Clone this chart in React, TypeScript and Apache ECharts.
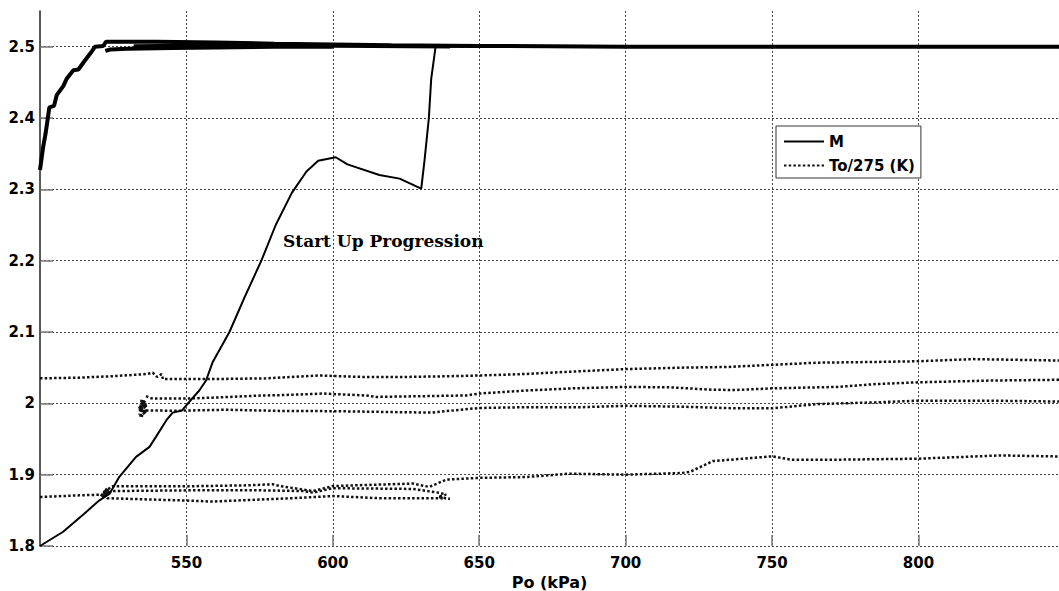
import React, { useEffect, useRef } from "react";
import * as echarts from "echarts";

// Axis settings (Po in kPa, dimensionless y)
const X_MIN = 500;
const X_MAX = 848;
const X_STEP = 50;
const Y_MIN = 1.8;
const Y_MAX = 2.55;
const Y_STEP = 0.1;

const X_NAME = "Po (kPa)";
const LEGEND_M = "M";
const LEGEND_T = "To/275 (K)";
const NOTE = "Start Up Progression";

// M: start-up trace
const mStartup: [number, number][] = [
  [500, 1.8], [507.9, 1.82], [515, 1.845], [520.3, 1.864], [523.7, 1.873],
  [527.1, 1.897], [532.8, 1.925], [537.4, 1.939], [539.6, 1.953], [543.1, 1.976],
  [545.3, 1.987], [548.5, 1.99], [551.6, 2.005], [554.4, 2.018], [556.7, 2.032],
  [559, 2.058], [564.7, 2.1], [570, 2.15], [575.6, 2.2], [580.5, 2.25],
  [586, 2.295], [591, 2.325], [595, 2.34], [601, 2.345], [605, 2.335],
  [615.9, 2.32], [622.8, 2.315], [630.2, 2.301], [631.3, 2.34], [632.8, 2.4],
  [633.6, 2.455], [635.1, 2.5], [700, 2.5], [848, 2.5],
];
// M: upper trace settling to 2.5
const mUpper: [number, number][] = [
  [500, 2.327], [501.1, 2.36], [501.9, 2.378], [503.2, 2.415], [504.8, 2.417],
  [505.7, 2.432], [508, 2.445], [509.1, 2.455], [511.4, 2.467], [513.1, 2.468],
  [515.4, 2.481], [517.1, 2.49], [518.8, 2.5], [521.6, 2.501], [522.6, 2.507],
  [540, 2.507], [560, 2.506], [580, 2.504], [600, 2.503], [620, 2.502],
  [650, 2.501], [700, 2.5], [848, 2.5],
];
// M: lower edge of the settled band
const mLower: [number, number][] = [
  [522.3, 2.494], [524, 2.496], [530, 2.497], [545, 2.498], [560, 2.499],
  [580, 2.5], [600, 2.5],
];
const mMiddle: [number, number][] = [
  [532, 2.501], [560, 2.502], [600, 2.501], [640, 2.5],
];

// To/275 traces
const tA: [number, number][] = [
  [500, 2.035], [513.4, 2.036], [524.8, 2.038], [536.2, 2.041], [538.5, 2.043],
  [540, 2.037], [541.5, 2.041], [542, 2.034], [559, 2.034], [577.2, 2.035],
  [595.4, 2.039], [610, 2.037], [625, 2.037], [639.7, 2.038], [650, 2.039],
  [665, 2.041], [679.4, 2.044], [700, 2.048], [719, 2.05], [735, 2.051],
  [750, 2.054], [765.6, 2.057], [785, 2.058], [800, 2.059], [818.7, 2.062],
  [848, 2.06],
];
const tB: [number, number][] = [
  [536.2, 2.01], [538, 2.007], [543.1, 2.0067], [550, 2.0067], [559, 2.008],
  [576, 2.011], [581.8, 2.0114], [596.7, 2.0137], [611.4, 2.011], [614.8, 2.009],
  [630, 2.01], [645.5, 2.011], [650, 2.0137], [666.2, 2.018], [682, 2.021],
  [700, 2.023], [715.2, 2.0224], [730, 2.019], [737.8, 2.0187], [750, 2.021],
  [772.3, 2.023], [785.5, 2.027], [800, 2.0295], [825.6, 2.032], [848, 2.033],
];
const tC: [number, number][] = [
  [536.2, 1.99], [546.5, 1.9896], [563.6, 1.991], [581.8, 1.9894], [600, 1.989],
  [616.4, 1.988], [633.4, 1.987], [650, 1.9935], [665, 1.9945], [684.2, 1.9945],
  [700, 1.9965], [719.2, 1.9953], [737.8, 1.993], [750, 1.993], [765.6, 1.999],
  [785.5, 2.0014], [800, 2.0037], [825.6, 2.0037], [848, 2.0025],
];
const tBlobUpper: [number, number][] = [
  [534.5, 1.981], [535.5, 2.004], [533.8, 1.99], [536.5, 1.998], [534, 1.995],
  [536, 1.985], [535, 2.006], [534.2, 1.984],
];
const tLower1: [number, number][] = [
  [500, 1.8687], [513.4, 1.871], [521.4, 1.872], [523, 1.879], [524.8, 1.8837],
  [549.9, 1.8837], [570.4, 1.885], [579.5, 1.8865], [582, 1.884], [590, 1.879],
  [593.2, 1.877], [600, 1.884], [615, 1.886], [627.3, 1.8875], [633, 1.8828],
  [638.7, 1.893], [650, 1.8955], [666.2, 1.8967], [680.8, 1.9014], [700, 1.9],
  [719.2, 1.9023], [722, 1.904], [729.8, 1.919], [750, 1.9257], [756.6, 1.921],
  [772.5, 1.921], [800, 1.9224], [828, 1.927], [848, 1.9255],
];
const tLower2: [number, number][] = [
  [522, 1.872], [524.8, 1.877], [549.9, 1.878], [576, 1.878], [590, 1.877],
  [593.2, 1.8748], [600, 1.881], [627.3, 1.88], [636.4, 1.8746], [638.7, 1.872],
  [636, 1.869], [640, 1.866],
];
const tLower3: [number, number][] = [
  [522, 1.873], [523, 1.867], [549.9, 1.8637], [559, 1.8623], [586, 1.867],
  [600, 1.87], [615.9, 1.867], [638.7, 1.867],
];
const tBlobLower: [number, number][] = [
  [521, 1.869], [523, 1.88], [522, 1.872], [524, 1.876], [521.5, 1.874],
];

const mSets = [
  { data: mStartup, width: 2 },
  { data: mUpper, width: 4 },
  { data: mLower, width: 4 },
  { data: mMiddle, width: 3.5 },
];
const tSets = [
  { data: tA, width: 2.5 },
  { data: tB, width: 2.5 },
  { data: tC, width: 2.5 },
  { data: tBlobUpper, width: 4 },
  { data: tLower1, width: 2.5 },
  { data: tLower2, width: 2.5 },
  { data: tLower3, width: 2.5 },
  { data: tBlobLower, width: 4 },
];

const FONT = "DejaVu Sans";
const HIDDEN = "rgba(0,0,0,0)";

export default function App() {
  const ref = useRef<HTMLDivElement>(null);
  useEffect(() => {
    if (!ref.current) return;
    const chart = echarts.init(ref.current, undefined, { renderer: "svg" });
    const series: any[] = [];
    tSets.forEach((s) =>
      series.push({
        name: LEGEND_T,
        type: "line",
        data: s.data,
        symbol: "circle",
        symbolSize: 0,
        showSymbol: false,
        lineStyle: { color: "#111", width: s.width, type: [2.5, 2.2], cap: "butt" },
        itemStyle: { color: HIDDEN, borderColor: HIDDEN, borderWidth: 0 },
      })
    );
    mSets.forEach((s) =>
      series.push({
        name: LEGEND_M,
        type: "line",
        data: s.data,
        symbol: "circle",
        symbolSize: 0,
        showSymbol: false,
        lineStyle: { color: "#000", width: s.width, type: "solid" },
        itemStyle: { color: HIDDEN, borderColor: HIDDEN, borderWidth: 0 },
        z: 3,
      })
    );
    const gridLine = { color: "#444", width: 1, type: [2, 2] };
    chart.setOption({
      animation: false,
      backgroundColor: "#fff",
      grid: { left: 40, right: 0, top: 11, bottom: 45, containLabel: false, outerBoundsMode: "none" },
      xAxis: {
        type: "value",
        min: X_MIN,
        max: X_MAX,
        interval: X_STEP,
        name: X_NAME,
        nameLocation: "middle",
        nameGap: 23,
        nameTextStyle: { fontFamily: FONT, fontWeight: "bold", fontSize: 16, color: "#000" },
        axisLine: { show: false },
        axisTick: { show: true, inside: true, length: 11, lineStyle: { color: "#777", width: 1.5 } },
        axisLabel: {
          showMinLabel: false,
          showMaxLabel: false,
          margin: 9,
          fontFamily: FONT,
          fontWeight: "bold",
          fontSize: 15,
          color: "#000",
        },
        splitLine: { show: true, showMinLine: false, showMaxLine: false, lineStyle: gridLine },
      },
      yAxis: {
        type: "value",
        min: Y_MIN,
        max: Y_MAX,
        interval: Y_STEP,
        axisLine: { show: true, onZero: false, lineStyle: { color: "#222", width: 1.5 } },
        axisTick: { show: true, inside: true, length: 13, lineStyle: { color: "#777", width: 1.5 } },
        axisLabel: {
          showMaxLabel: false,
          margin: 5,
          fontFamily: FONT,
          fontWeight: "bold",
          fontSize: 15,
          color: "#000",
        },
        splitLine: { show: true, showMaxLine: false, lineStyle: gridLine },
      },
      legend: {
        data: [LEGEND_M, LEGEND_T],
        orient: "vertical",
        left: 776,
        top: 126,
        padding: [8, 6, 5, 7],
        itemGap: 9,
        itemWidth: 40,
        itemHeight: 14,
        backgroundColor: "#fff",
        borderColor: "#333",
        borderWidth: 1,
        itemStyle: { color: HIDDEN, borderColor: HIDDEN, borderWidth: 0, opacity: 0 },
        textStyle: { fontFamily: FONT, fontWeight: "bold", fontSize: 15, color: "#000" },
      },
      graphic: [
        {
          type: "text",
          left: 283,
          top: 232,
          style: {
            text: NOTE,
            font: "bold 17px 'DejaVu Serif'",
            fill: "#000",
          },
        },
      ],
      series,
    });
    return () => chart.dispose();
  }, []);
  return (
    <div
      ref={ref}
      style={{ position: "fixed", left: 0, top: 0, width: 1059, height: 591, background: "#fff" }}
    />
  );
}
